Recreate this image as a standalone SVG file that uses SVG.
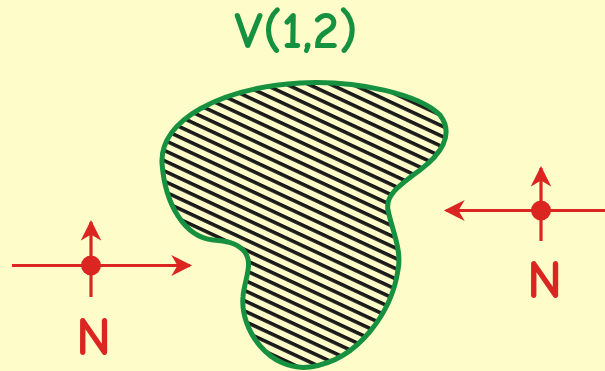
<svg xmlns="http://www.w3.org/2000/svg" width="605" height="371" viewBox="0 0 605 371">
<defs>
<style>
.red{stroke:#DA2521;stroke-width:3.2;fill:none}
.lbl{font-family:"Comic Neue","Liberation Sans",sans-serif;font-weight:bold;text-anchor:middle}
</style>
<pattern id="hatch" patternUnits="userSpaceOnUse" width="20" height="9.3" patternTransform="rotate(25)">
<rect width="20" height="9.3" fill="#FEFCC9"/>
<line x1="0" y1="1.8" x2="20" y2="1.8" stroke="#1a1a1a" stroke-width="3.6"/>
</pattern>
<marker id="ah" viewBox="0 0 10 10" refX="9" refY="5" markerWidth="7" markerHeight="6.5" markerUnits="strokeWidth" orient="auto">
<path d="M0,0 L10,5 L0,10 L3,5 Z" fill="#DA2521"/>
</marker>
</defs>
<rect width="605" height="371" fill="#FEFCC9"/>
<g id="region">
<path d="M162,163 C160,120 220,88 300,83 C360,80 420,95 440,115 C455,135 440,155 420,170 C400,185 385,195 388,210 C392,230 402,250 398,270 C392,310 360,360 310,367 C270,372 240,330 243,297 C244,280 255,262 243,250 C235,242 225,241 213,240 C185,237 165,205 162,163 Z" fill="url(#hatch)" stroke="#16913F" stroke-width="5"/>
<text class="lbl" x="296" y="48" font-size="53" fill="#16913F">V(1,2)</text>
</g>
<g id="connectors">
<line class="red" x1="12" y1="265.5" x2="190" y2="265.5" marker-end="url(#ah)"/>
<line class="red" x1="91" y1="297" x2="91" y2="222" marker-end="url(#ah)"/>
<line class="red" x1="605" y1="210.5" x2="446" y2="210.5" marker-end="url(#ah)"/>
<line class="red" x1="541" y1="241" x2="541" y2="168" marker-end="url(#ah)"/>
</g>
<g id="left-node">
<circle cx="91" cy="265.5" r="10" fill="#DA2521"/>
<text class="lbl" x="93.5" y="355" font-size="54" fill="#DA2521">N</text>
</g>
<g id="right-node">
<circle cx="541" cy="210.5" r="10" fill="#DA2521"/>
<text class="lbl" x="544.5" y="298" font-size="54" fill="#DA2521">N</text>
</g>
</svg>
